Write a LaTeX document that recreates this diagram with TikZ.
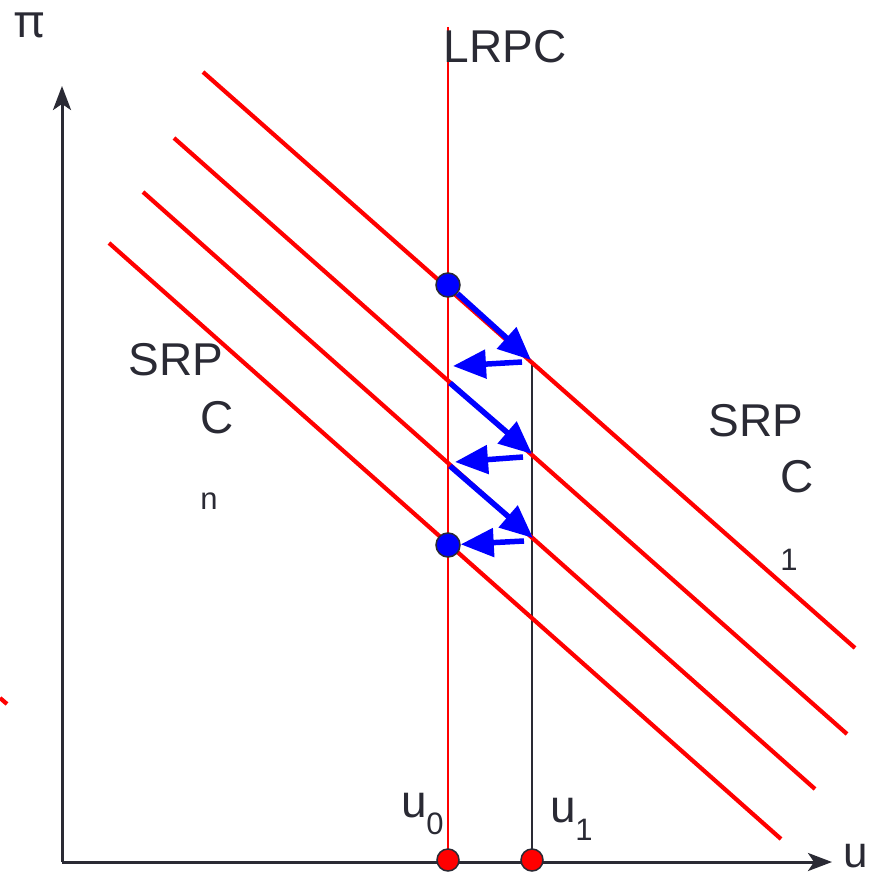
\documentclass[tikz,border=0pt]{standalone}
\usepackage{fontspec}
\setmainfont{Liberation Sans}
\newfontfamily\pifont{Noto Sans}
\usetikzlibrary{arrows.meta}
\definecolor{ink}{RGB}{42,42,52}
\definecolor{pred}{RGB}{255,0,0}
\definecolor{pblue}{RGB}{0,0,255}
\begin{document}
\begin{tikzpicture}[x=1pt,y=-1pt,
  axis/.style={draw=ink,line width=3pt,-{Stealth[length=24pt,width=18pt,inset=6pt]}},
  srpc/.style={draw=pred,line width=4.2pt},
  lrpc/.style={draw=pred,line width=1.6pt},
  guide/.style={draw=ink,line width=2pt},
  move/.style={draw=pblue,line width=5.5pt,-{Triangle[length=33pt,width=28pt]}},
  bdot/.style={circle,fill=pblue,draw=ink,line width=1.5pt,minimum size=24pt,inner sep=0pt},
  rdot/.style={circle,fill=pred,draw=ink,line width=1.5pt,minimum size=22pt,inner sep=0pt},
  big/.style={text=ink,inner sep=0pt,font=\fontsize{46}{50}\selectfont},
  small/.style={text=ink,inner sep=0pt,font=\fontsize{31}{34}\selectfont},
]
\useasboundingbox (0,0) rectangle (872,874);

% coordinates
\coordinate (O) at (62,862);
\coordinate (ytip) at (62,86);
\coordinate (xtip) at (832,862);
\coordinate (L1a) at (203,72);  \coordinate (L1b) at (855,648);
\coordinate (L2a) at (174,138); \coordinate (L2b) at (847,734);
\coordinate (L3a) at (143,192); \coordinate (L3b) at (815,789);
\coordinate (L4a) at (109,243); \coordinate (L4b) at (781,839);
\coordinate (S0a) at (0,698);   \coordinate (S0b) at (7,704);
\coordinate (LRtop) at (448,27); \coordinate (LRbot) at (448,862);
\coordinate (Gtop) at (532,362); \coordinate (Gbot) at (532,862);

% lines
\draw[lrpc] (LRtop) -- (LRbot);
\draw[guide] (Gtop) -- (Gbot);
\draw[srpc] (L1a) -- (L1b);
\draw[srpc] (L2a) -- (L2b);
\draw[srpc] (L3a) -- (L3b);
\draw[srpc] (L4a) -- (L4b);
\draw[srpc] (S0a) -- (S0b);

% axes
\draw[axis] (O) -- (ytip);
\draw[axis] (O) -- (xtip);

% dots
\node[rdot] (r0) at (448,860) {};
\node[rdot] (r1) at (532,860) {};
\node[bdot] (b1) at (448,285) {};
\node[bdot] (b2) at (448,545) {};

% arrow points
\coordinate (p1) at (531,360);
\coordinate (q1) at (522,362); \coordinate (q1e) at (453,366);
\coordinate (p2s) at (450,383); \coordinate (p2) at (532,454);
\coordinate (q2) at (523,457); \coordinate (q2e) at (455,462);
\coordinate (p3s) at (450,466); \coordinate (p3) at (533,538);
\coordinate (q3) at (524,541);

\draw[move] (b1) -- (p1);
\draw[move] (q1) -- (q1e);
\draw[move] (p2s) -- (p2);
\draw[move] (q2) -- (q2e);
\draw[move] (p3s) -- (p3);
\draw[move] (q3) -- (b2);

% labels
\node[big,font=\pifont\fontsize{46}{50}\selectfont] (pi) at (30,25) {π};
\node[big,font=\fontsize{44}{48}\selectfont] (ul) at (856,856) {u};
\node[big] (lr) at (505,47) {LRPC};
\node[big] (sl) at (176,360) {SRP};
\node[big] (cl) at (217,418) {C};
\node[small] (nl) at (209,501) {n};
\node[big] (sr) at (756,421) {SRP};
\node[big] (cr) at (797,477) {C};
\node[small] (onel) at (789,560) {1};
\node[big] (u0) at (414,806) {u};
\node[small] (z0) at (435,824) {0};
\node[big] (u1) at (563,811) {u};
\node[small] (z1) at (584,830) {1};
\end{tikzpicture}
\end{document}
